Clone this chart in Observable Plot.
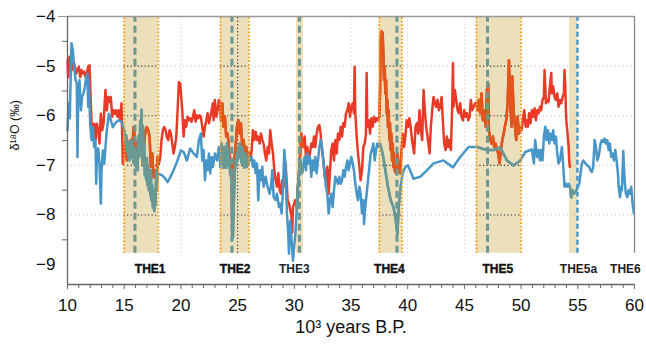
<!DOCTYPE html>
<html>
<head>
<meta charset="utf-8">
<script src="https://cdn.jsdelivr.net/npm/d3@7"></script>
<script src="https://cdn.jsdelivr.net/npm/@observablehq/plot@0.6"></script>
<style>
  html, body { margin: 0; padding: 0; background: #fff; }
  #chart { width: 646px; height: 344px; }
</style>
</head>
<body>
<div id="chart"></div>
<script>
// ---- data (x = 10^3 years B.P., y = δ18O ‰) ----
const redSeries = [
[10.00,-4.88],[10.06,-5.22],[10.18,-4.81],[10.29,-4.95],[10.41,-5.08],[10.53,-4.91],[10.65,-5.01],[10.76,-5.15],[10.88,-5.08],[11.00,-5.01],[11.12,-5.22],[11.24,-5.08],[11.35,-5.15],[11.47,-5.11],[11.59,-5.22],[11.71,-5.15],[11.82,-5.01],[11.88,-5.22],[11.94,-4.98],[12.12,-6.16],[12.24,-6.43],[12.35,-6.16],[12.47,-6.49],[12.59,-6.16],[12.71,-6.29],[12.82,-6.56],[12.94,-5.96],[13.06,-6.29],[13.18,-6.16],[13.29,-5.69],[13.35,-5.48],[13.47,-5.89],[13.59,-5.62],[13.71,-5.72],[13.82,-5.62],[13.94,-6.02],[14.06,-5.89],[14.18,-5.96],[14.29,-5.89],[14.41,-6.02],[14.53,-5.89],[14.65,-6.09],[14.76,-5.75],[14.88,-6.97],[15.00,-6.56],
[15.12,-6.70],[15.24,-6.90],[15.35,-6.63],[15.47,-6.83],[15.59,-6.49],[15.71,-6.70],[15.82,-6.23],[15.94,-6.43],[16.06,-6.76],[16.18,-6.56],[16.29,-6.83],[16.41,-6.63],[16.53,-6.70],[16.65,-6.97],[16.76,-6.56],[16.88,-6.29],[17.00,-6.23],[17.12,-6.29],[17.24,-6.43],[17.35,-7.03],[17.47,-6.76],[17.59,-7.24],[17.71,-7.10],[17.82,-7.24],[17.88,-7.51],[17.94,-6.83],
[18.06,-6.97],[18.18,-6.83],[18.29,-6.49],[18.41,-6.29],[18.53,-6.23],[18.65,-6.29],[18.76,-6.43],[18.88,-6.49],[19.00,-6.29],[19.12,-6.36],[19.24,-6.56],[19.35,-6.76],[19.47,-6.63],[19.59,-6.43],[19.71,-5.89],[19.82,-5.32],[19.94,-5.35],
[20.12,-5.89],[20.24,-6.42],[20.35,-6.09],[20.47,-6.22],[20.59,-6.02],[20.71,-6.09],[20.82,-6.05],[20.94,-6.12],[21.06,-6.02],[21.18,-5.89],[21.29,-6.12],[21.41,-5.99],[21.53,-6.05],[21.65,-5.99],[21.76,-6.02],[21.88,-6.22],[22.00,-6.42],[22.12,-6.22],[22.24,-6.09],[22.35,-5.95],[22.47,-6.15],[22.59,-6.02],[22.71,-5.89],[22.82,-5.75],[22.88,-6.09],[23.00,-5.68],[23.12,-6.02],[23.24,-5.89],[23.35,-5.68],[23.47,-5.82],
[23.53,-6.09],[23.65,-5.75],[23.76,-6.22],[23.88,-6.02],[24.00,-6.42],[24.12,-6.36],[24.24,-6.63],[24.35,-6.90],[24.47,-7.03],[24.53,-8.45],[24.59,-7.10],[24.71,-6.90],[24.82,-6.63],[24.94,-6.22],[25.06,-6.09],[25.18,-6.36],[25.29,-6.15],[25.41,-6.63],[25.53,-6.49],[25.65,-6.76],[25.76,-6.63],[25.88,-6.90],[26.00,-6.76],
[26.12,-6.90],[26.24,-6.69],[26.35,-6.29],[26.47,-6.49],[26.59,-6.32],[26.71,-6.49],[26.82,-6.42],[26.94,-6.56],[27.06,-6.36],[27.18,-6.49],[27.29,-6.56],[27.41,-6.76],[27.53,-6.90],[27.65,-6.63],[27.76,-6.76],[27.88,-6.29],[28.00,-6.56],[28.12,-6.76],[28.24,-7.10],[28.35,-7.30],[28.47,-7.43],[28.59,-7.16],[28.71,-7.50],[28.82,-7.57],[28.94,-7.30],[29.06,-7.43],[29.18,-6.90],[29.29,-7.16],[29.41,-7.70],[29.53,-7.77],[29.65,-7.91],[29.76,-8.04],[29.82,-8.35],[29.88,-7.84],[30.09,-7.70],[30.21,-7.84],[30.32,-7.43],[30.44,-7.10],[30.56,-6.56],[30.62,-6.36],[30.68,-6.49],[30.79,-6.63],[30.91,-6.42],[31.03,-6.83],[31.15,-6.63],[31.26,-6.90],[31.38,-6.76],[31.50,-6.56],[31.62,-6.63],[31.74,-6.42],[31.85,-6.63],[31.97,-6.36],[32.09,-6.22],[32.21,-6.19],[32.32,-6.36],[32.44,-6.69],[32.56,-6.90],[32.68,-7.23],[32.79,-7.30],[32.91,-7.03],[33.03,-7.57],[33.15,-7.10],[33.26,-6.69],[33.38,-6.56],[33.50,-6.90],[33.62,-6.49],[33.74,-6.76],[33.85,-6.36],[33.97,-6.49],[34.09,-6.22],[34.21,-6.42],[34.32,-6.15],[34.44,-6.22],[34.56,-5.95],[34.68,-5.89],[34.79,-5.75],[34.91,-6.02],[35.03,-5.82],[35.15,-5.75],[35.26,-5.95],[35.32,-5.01],[35.38,-5.95],[35.50,-6.42],[35.62,-6.76],[35.74,-7.03],[35.85,-7.30],[35.97,-7.10],[36.09,-6.63],[36.21,-6.56],[36.32,-6.36],[36.38,-5.14],[36.44,-6.22],[36.56,-6.09],[36.68,-6.36],[36.79,-6.05],[36.91,-6.22],[37.03,-6.02],[37.15,-6.12],[37.26,-6.05],[37.38,-6.09],[37.50,-6.02],
[37.56,-5.55],[37.62,-4.47],[37.68,-4.30],[37.79,-4.33],[37.85,-4.74],[37.91,-5.28],[37.97,-5.01],[38.03,-5.55],[38.09,-5.28],[38.15,-5.95],[38.21,-5.68],[38.26,-6.22],[38.32,-5.89],[38.38,-6.49],[38.44,-6.15],[38.50,-6.69],[38.56,-6.36],[38.62,-6.90],[38.68,-6.56],[38.74,-7.03],[38.79,-6.76],[38.85,-7.10],[38.97,-7.16],[39.09,-6.76],[39.21,-7.10],[39.32,-7.16],[39.44,-6.76],
[39.56,-6.36],[39.68,-6.63],[39.79,-6.42],[39.91,-6.09],[40.03,-6.22],[40.15,-6.05],[40.26,-6.22],[40.38,-6.49],[40.57,-6.76],[40.69,-6.22],[40.81,-6.15],[40.93,-6.36],[41.04,-5.89],[41.16,-6.29],[41.28,-6.49],[41.40,-5.48],[41.51,-5.89],[41.63,-6.22],[41.75,-6.42],[41.87,-6.63],[41.93,-6.76],[42.04,-6.22],[42.16,-5.89],[42.28,-5.62],[42.40,-5.75],[42.51,-5.82],[42.63,-5.68],[42.75,-5.89],[42.87,-5.82],[42.99,-5.62],[43.10,-6.09],[43.22,-6.56],[43.34,-6.69],[43.46,-6.42],[43.57,-6.63],[43.69,-6.49],[43.81,-6.69],[43.93,-5.75],[43.99,-4.94],[44.04,-5.82],[44.16,-5.48],[44.28,-5.68],[44.40,-5.89],[44.51,-5.95],[44.63,-5.75],[44.75,-6.02],[44.87,-6.09],[44.99,-5.89],[45.10,-6.02],[45.22,-5.95],[45.34,-6.09],[45.46,-6.02],[45.57,-5.68],[45.69,-5.89],[45.81,-5.82],[45.93,-5.75],[46.04,-5.75],
[46.16,-5.89],[46.28,-5.68],[46.40,-5.95],[46.51,-5.55],[46.63,-6.09],[46.75,-5.89],[46.87,-6.22],[46.99,-5.48],[47.10,-5.35],[47.16,-6.29],[47.28,-6.49],[47.40,-6.56],[47.51,-6.42],[47.63,-6.63],[47.75,-6.56],[47.87,-6.69],[47.99,-6.76],[48.10,-6.96],[48.22,-6.69],[48.34,-6.49],[48.46,-6.36],[48.57,-6.22],[48.69,-6.09],[48.81,-5.75],[48.93,-4.88],[49.04,-5.75],[49.16,-6.22],[49.22,-5.21],[49.34,-5.89],[49.46,-6.22],[49.57,-6.49],[49.69,-6.02],[49.81,-6.36],[49.93,-6.22],
[50.04,-6.29],[50.16,-6.09],[50.28,-5.89],[50.40,-6.22],[50.48,-6.09],[50.60,-6.22],[50.71,-5.95],[50.83,-6.15],[50.95,-5.89],[51.07,-6.02],[51.19,-5.85],[51.30,-6.09],[51.42,-5.89],[51.54,-5.95],[51.66,-5.82],[51.77,-5.89],[51.89,-5.68],[52.01,-5.62],[52.07,-5.08],[52.19,-5.75],[52.30,-5.68],[52.42,-5.72],[52.54,-5.41],[52.66,-5.14],[52.72,-5.55],[52.83,-5.41],[52.95,-5.62],[53.07,-5.68],[53.19,-5.55],[53.30,-5.82],[53.42,-5.68],[53.54,-5.75],[53.66,-5.62],[53.77,-5.55],[53.83,-5.08],[53.89,-5.35],[53.95,-5.89],[54.00,-6.15],[54.07,-6.29],[54.19,-6.63],[54.24,-6.90],[54.30,-7.03]
];

const blueSeries = [
[10.00,-6.29],[10.10,-5.75],[10.20,-6.05],[10.35,-4.54],[10.47,-4.68],[10.59,-5.01],[10.71,-5.28],[10.82,-5.35],[10.88,-6.83],[10.94,-5.62],[11.06,-5.28],[11.18,-5.89],[11.29,-5.62],[11.41,-5.55],[11.53,-5.42],[11.65,-5.22],[11.76,-5.15],[11.82,-5.82],[11.88,-5.28],[12.00,-6.16],[12.12,-6.49],[12.24,-6.23],[12.35,-6.63],[12.47,-6.49],[12.53,-7.37],[12.59,-6.83],[12.71,-6.66],[12.82,-6.97],[12.94,-7.77],[13.00,-7.10],[13.12,-6.70],[13.24,-6.97],[13.35,-6.63],[13.47,-6.29],[13.65,-5.96],[13.82,-6.09],[14.00,-6.23],[14.18,-6.16],[14.35,-6.12],[14.53,-6.09],[14.76,-6.12],[15.00,-6.29],
[15.05,-6.35],[15.12,-6.55],[15.18,-6.40],[15.24,-6.70],[15.29,-6.50],[15.35,-6.80],[15.41,-6.60],[15.47,-6.90],[15.53,-6.55],[15.59,-6.75],[15.65,-6.50],[15.71,-6.85],[15.76,-6.60],[15.82,-6.95],[15.88,-6.70],[15.94,-7.00],[16.00,-6.70],[16.06,-7.05],[16.12,-6.80],[16.18,-7.10],[16.24,-6.60],[16.29,-6.40],[16.35,-6.80],[16.41,-6.10],[16.47,-6.70],[16.53,-5.88],[16.59,-6.90],[16.65,-6.20],[16.71,-7.00],[16.76,-6.60],[16.82,-7.20],[16.88,-6.90],[16.94,-7.30],[17.00,-6.85],[17.06,-7.40],[17.12,-7.05],[17.18,-7.50],[17.24,-7.20],[17.30,-7.60],[17.35,-7.10],[17.41,-7.70],[17.47,-7.40],[17.53,-7.85],[17.59,-7.50],[17.65,-7.92],[17.71,-7.55],[17.76,-7.80],[17.82,-7.10],[17.88,-7.40],[17.94,-7.20],
[18.06,-7.17],[18.35,-7.20],[18.65,-7.27],[18.82,-7.34],[19.06,-7.24],[19.35,-7.10],[19.65,-6.93],[20.00,-6.70],
[20.24,-6.73],[20.53,-6.90],[20.82,-6.66],[21.12,-6.76],[21.41,-6.83],[21.59,-6.49],[21.76,-6.36],[21.88,-6.90],[22.00,-6.69],[22.12,-7.30],[22.24,-6.90],[22.35,-7.10],[22.47,-6.76],[22.59,-7.16],[22.71,-6.83],[22.82,-7.03],[23.00,-6.76],[23.18,-6.90],[23.35,-6.63],[23.47,-7.03],
[23.59,-6.56],[23.65,-6.95],[23.71,-6.70],[23.76,-7.05],[23.82,-6.63],[23.88,-6.95],[23.94,-6.75],[24.00,-7.05],[24.06,-6.56],[24.12,-6.90],[24.18,-6.69],[24.24,-7.00],[24.29,-6.90],[24.35,-7.20],[24.41,-7.16],[24.47,-7.40],[24.53,-7.57],[24.59,-8.45],[24.65,-7.84],[24.71,-7.43],[24.76,-7.10],[24.82,-6.90],[24.88,-7.00],[24.94,-6.76],[25.00,-6.90],[25.06,-6.63],[25.12,-6.85],[25.18,-6.56],[25.24,-6.80],[25.29,-6.76],[25.35,-6.95],[25.41,-6.63],[25.47,-7.00],[25.53,-6.90],[25.59,-7.05],[25.65,-6.80],[25.71,-6.76],[25.76,-7.00],[25.82,-7.03],[25.88,-6.85],[25.94,-7.00],[26.00,-6.83],
[26.12,-6.90],[26.24,-6.83],[26.35,-7.03],[26.47,-6.90],[26.59,-7.16],[26.71,-6.96],[26.82,-7.70],[26.94,-7.10],[27.06,-7.30],[27.18,-7.03],[27.29,-7.43],[27.47,-7.23],[27.65,-7.43],[27.82,-7.57],[27.94,-7.43],[28.06,-7.10],[28.18,-7.64],[28.35,-7.70],[28.47,-7.57],[28.65,-7.84],[28.76,-7.77],[28.88,-7.97],[29.00,-7.50],[29.12,-6.69],[29.24,-7.10],[29.35,-7.97],[29.47,-8.38],[29.53,-8.78],[29.65,-8.11],[29.76,-8.51],[29.88,-8.92],[30.09,-8.38],
[30.21,-7.91],[30.32,-7.43],[30.44,-7.10],[30.56,-6.90],[30.68,-7.16],[30.79,-7.03],
[30.91,-6.83],[31.03,-7.10],[31.15,-6.76],[31.26,-6.96],[31.38,-6.83],[31.50,-7.23],[31.62,-6.90],[31.74,-7.10],[31.85,-6.83],[31.97,-7.16],[32.09,-6.90],[32.21,-6.63],[32.32,-6.49],[32.44,-6.63],[32.56,-6.90],[32.68,-7.16],[32.79,-7.43],[32.91,-7.57],[33.03,-7.97],[33.15,-7.70],[33.26,-7.57],[33.38,-7.84],[33.50,-7.50],[33.62,-7.23],[33.74,-7.30],[33.85,-7.37],[33.97,-7.23],[34.09,-7.37],[34.21,-7.30],[34.32,-7.10],[34.44,-7.23],[34.56,-7.03],[34.68,-6.90],[34.79,-7.10],[34.91,-6.96],[35.03,-6.83],[35.15,-6.96],[35.26,-7.10],[35.38,-7.37],[35.50,-7.57],[35.62,-7.70],[35.74,-7.43],[35.85,-7.57],[35.97,-7.97],[36.09,-7.70],[36.15,-8.18],[36.26,-7.84],[36.38,-7.57],[36.50,-7.30],[36.62,-7.03],[36.74,-6.76],[36.85,-6.69],[36.97,-6.56],[37.09,-6.90],[37.21,-6.69],[37.32,-6.56],[37.44,-6.63],
[37.56,-6.56],[37.79,-6.76],[38.03,-7.10],[38.26,-7.43],[38.50,-7.70],[38.74,-7.84],[38.91,-8.04],[39.09,-8.38],[39.21,-7.84],[39.38,-7.43],
[39.56,-7.16],[39.79,-7.03],[40.03,-7.00],[40.21,-7.10],[40.44,-7.23],[40.51,-7.27],[41.10,-7.23],[41.69,-7.10],[42.28,-6.96],[43.16,-6.90],[43.99,-7.04],[44.63,-6.83],[45.37,-6.63],[46.10,-6.63],
[46.98,-6.69],[47.57,-6.69],[48.16,-6.64],[48.75,-6.90],[49.34,-7.00],[49.93,-6.90],
[50.37,-6.73],[50.95,-6.68],[51.13,-6.96],[51.24,-6.49],[51.42,-6.83],[51.54,-6.69],[51.66,-6.90],[51.77,-6.69],[51.89,-6.90],[52.01,-6.42],[52.13,-6.22],[52.24,-6.49],[52.36,-6.29],[52.48,-6.56],[52.60,-6.36],[52.72,-6.49],[52.83,-6.29],[52.95,-6.56],[53.07,-6.42],[53.19,-6.76],[53.30,-6.96],[53.42,-6.90],[53.60,-6.63],[53.72,-7.03],[53.83,-7.43],[53.95,-7.37],[54.07,-7.43],[54.19,-7.37],[54.30,-7.43],[54.42,-7.64],[54.54,-7.50],[54.66,-7.57],[54.77,-7.54],[54.89,-7.50],[55.01,-7.43],[55.13,-7.37],[55.24,-7.16],[55.36,-6.96],[55.48,-6.90],[55.66,-6.96],[55.83,-7.00],[56.01,-7.03],[56.13,-7.10],[56.24,-7.13],[56.36,-7.03],[56.48,-6.49],[56.60,-6.63],[56.72,-6.90],[56.83,-6.83],[57.01,-6.56],[57.13,-6.49],[57.24,-6.53],[57.36,-6.46],[57.48,-6.56],[57.60,-6.49],[57.72,-6.69],[57.83,-6.56],[57.95,-6.83],[58.07,-6.76],[58.19,-6.90],[58.30,-6.69],[58.42,-6.90],[58.54,-7.16],[58.60,-7.43],[58.72,-7.64],[58.83,-7.43],[58.89,-7.50],[59.01,-6.71],[59.07,-7.03],[59.13,-7.30],[59.24,-7.57],[59.36,-7.64],[59.48,-7.50],[59.60,-7.57],[59.71,-7.43],[59.83,-7.77],[59.95,-7.97]
];

// Termination-event bands
const bandNames  = ["THE1", "THE2", "THE3", "THE4", "THE5", "THE5a"];
const bandStart  = [15.0, 23.5, 30.2, 37.5, 46.07, 54.27];
const bandEnd    = [18.0, 26.0, 30.8, 39.5, 50.0, 55.0];
const bandDash   = [15.95, 24.5, 30.45, 39.05, 47.04, 54.97];
const bandEdged  = [true, true, false, true, true, false];

// Event labels under the bands
const labelNames = ["THE1", "THE2", "THE3", "THE4", "THE5", "THE5a", "THE6"];
const labelX     = [17.29, 24.79, 30.0, 38.39, 47.94, 55.06, 59.2];
const labelHeavy = [true, true, false, true, true, false, false];

// Axis ticks
const yTicks = [-4, -5, -6, -7, -8, -9];
const yMinor = [-4.5, -5.5, -6.5, -7.5, -8.5];
const xTicks = [10, 15, 20, 25, 30, 35, 40, 45, 50, 55, 60];
const xMinor = d3.range(11, 60).filter(v => v % 5 !== 0);
const gridY = [-5, -6, -7, -8];
const gridX = [20, 35, 40, 45];

// ---- build ----
const YTOP = -4, YBOT = -8.77;
const red = redSeries.map(([x, y]) => ({x, y}));
const blue = blueSeries.map(([x, y]) => ({x, y}));
const bands = bandNames.map((name, i) => ({name, x1: bandStart[i], x2: bandEnd[i], dash: bandDash[i], edged: bandEdged[i], i}));
const bandOf = x => bands.findIndex(b => x >= b.x1 && x <= b.x2);
const redIn = red.map(d => ({...d, band: bandOf(d.x)})).filter(d => d.band >= 0);
const blueIn = blue.map(d => ({...d, band: bandOf(d.x)})).filter(d => d.band >= 0);
const edged = bands.filter(b => b.edged);
const edgeXs = edged.flatMap(b => [b.x1, b.x2]);
const darkGrid = edged.flatMap(b => gridY.map(y => ({y, x1: b.x1, x2: b.x2})));
const labels = labelNames.map((t, i) => ({t, x: labelX[i], heavy: labelHeavy[i]}));
const intFmt = d3.format("d");

const chart = Plot.plot({
  width: 646,
  height: 344,
  marginLeft: 67,
  marginRight: 12,
  marginTop: 16,
  marginBottom: 60,
  style: {fontFamily: "'Liberation Sans', Arial, sans-serif", background: "#fff", color: "#111"},
  x: {domain: [10, 60]},
  y: {domain: [-9.4, -4]},
  marks: [
    Plot.rect(bands, {x1: "x1", x2: "x2", y1: YBOT, y2: YTOP, fill: "#ecdfbb"}),
    Plot.ruleY(gridY, {x1: 10, x2: 60, stroke: "#c4c4c4", strokeWidth: 1, strokeDasharray: "1,3"}),
    Plot.ruleX(gridX, {y1: YBOT, y2: YTOP, stroke: "#c4c4c4", strokeWidth: 1, strokeDasharray: "1,3"}),
    Plot.ruleY(darkGrid, {y: "y", x1: "x1", x2: "x2", stroke: "#222", strokeWidth: 1.2, strokeDasharray: "1,2.5"}),
    Plot.ruleX([25], {y1: YBOT, y2: YTOP, stroke: "#222", strokeWidth: 1.2, strokeDasharray: "1,2.5"}),
    Plot.line(red, {x: "x", y: "y", stroke: "#e93a27", strokeWidth: 2.5, strokeLinejoin: "round"}),
    Plot.line(redIn, {x: "x", y: "y", z: "band", stroke: "#e1561d", strokeWidth: 2.5, strokeLinejoin: "round"}),
    Plot.line(blue, {x: "x", y: "y", stroke: "#4895c8", strokeWidth: 2.5, strokeLinejoin: "round"}),
    Plot.line(blueIn, {x: "x", y: "y", z: "band", stroke: "#6a9994", strokeWidth: 2.5, strokeLinejoin: "round"}),
    Plot.ruleX(edgeXs, {y1: YBOT, y2: YTOP, stroke: "#f5a01a", strokeWidth: 2, strokeDasharray: "1.6,2"}),
    Plot.ruleX(bands.filter(b => b.name !== "THE5a"), {x: "dash", y1: YBOT, y2: YTOP, stroke: "#6a9894", strokeWidth: 3, strokeDasharray: "7,4"}),
    Plot.ruleX(bands.filter(b => b.name === "THE5a"), {x: "dash", y1: YBOT, y2: YTOP, stroke: "#4a96c8", strokeWidth: 2.5, strokeDasharray: "5,3"}),
    // frame
    Plot.ruleY([-4], {x1: 10, x2: 60, stroke: "#999", strokeWidth: 1.5}),
    Plot.ruleX([60], {y1: YBOT, y2: YTOP, stroke: "#888", strokeWidth: 1.3}),
    Plot.ruleX([10], {stroke: "#666", strokeWidth: 1.3}),
    Plot.ruleY([-9.4], {stroke: "#666", strokeWidth: 1.3}),
    // axes
    Plot.axisY(yTicks, {tickSize: 0, tickPadding: 12, fontSize: 17, tickFormat: intFmt, label: null}),
    Plot.axisY([-4], {tickSize: 9, tickFormat: () => "", stroke: "#999", label: null}),
    Plot.axisY(yMinor, {tickSize: 5, tickFormat: () => "", stroke: "#666", label: null}),
    Plot.axisX(xTicks, {tickSize: 5, tickPadding: 9, fontSize: 17, stroke: "#666", tickFormat: intFmt, label: null}),
    Plot.axisX(xMinor, {tickSize: 4, tickFormat: () => "", stroke: "#666", label: null}),
    Plot.text(["10³ years B.P."], {frameAnchor: "bottom", dy: 48, fontSize: 18}),
    Plot.text(["δ¹⁸O (‰)"], {frameAnchor: "left", dx: -53, rotate: -90, fontSize: 12.5}),
    // event labels
    Plot.text(labels.filter(d => d.heavy), {x: "x", y: -9.1, text: "t", fontSize: 12, fontWeight: "bold", fill: "#111", stroke: "#111", strokeWidth: 0.4}),
    Plot.text(labels.filter(d => !d.heavy), {x: "x", y: -9.1, text: "t", fontSize: 12, fontWeight: "bold", fill: "#222"})
  ]
});
document.getElementById("chart").appendChild(chart);
</script>
</body>
</html>
